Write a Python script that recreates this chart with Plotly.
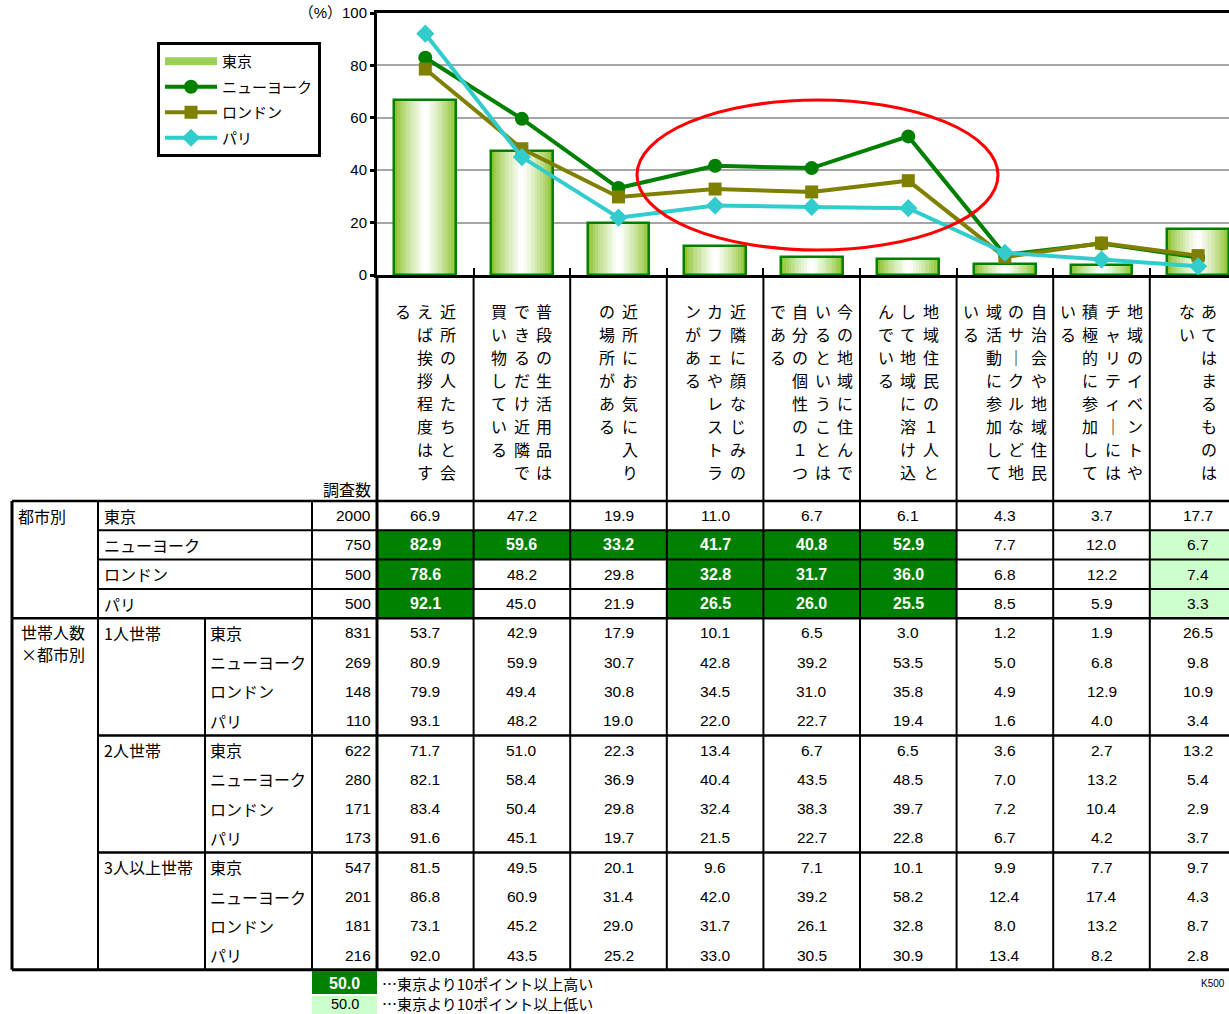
import plotly.graph_objects as go

# ---------------- data ----------------
categories = [
    "近所の人たちと会えば挨拶程度はする",
    "普段の生活用品はできるだけ近隣で買い物している",
    "近所にお気に入りの場所がある",
    "近隣に顔なじみのカフェやレストランがある",
    "今の地域に住んでいるということは自分の個性の１つである",
    "地域住民の１人として地域に溶け込んでいる",
    "自治会や地域住民のサークルなど地域活動に参加している",
    "地域のイベントやチャリティーには積極的に参加している",
    "あてはまるものはない",
]
cities = ["東京", "ニューヨーク", "ロンドン", "パリ"]
tokyo = [66.9, 47.2, 19.9, 11.0, 6.7, 6.1, 4.3, 3.7, 17.7]
newyork = [82.9, 59.6, 33.2, 41.7, 40.8, 52.9, 7.7, 12.0, 6.7]
london = [78.6, 48.2, 29.8, 32.8, 31.7, 36.0, 6.8, 12.2, 7.4]
paris = [92.1, 45.0, 21.9, 26.5, 26.0, 25.5, 8.5, 5.9, 3.3]

city_n = [2000, 750, 500, 500]

households = ["1人世帯", "2人世帯", "3人以上世帯"]
hh1_n = [831, 269, 148, 110]
hh1 = [
    [53.7, 42.9, 17.9, 10.1, 6.5, 3.0, 1.2, 1.9, 26.5],
    [80.9, 59.9, 30.7, 42.8, 39.2, 53.5, 5.0, 6.8, 9.8],
    [79.9, 49.4, 30.8, 34.5, 31.0, 35.8, 4.9, 12.9, 10.9],
    [93.1, 48.2, 19.0, 22.0, 22.7, 19.4, 1.6, 4.0, 3.4],
]
hh2_n = [622, 280, 171, 173]
hh2 = [
    [71.7, 51.0, 22.3, 13.4, 6.7, 6.5, 3.6, 2.7, 13.2],
    [82.1, 58.4, 36.9, 40.4, 43.5, 48.5, 7.0, 13.2, 5.4],
    [83.4, 50.4, 29.8, 32.4, 38.3, 39.7, 7.2, 10.4, 2.9],
    [91.6, 45.1, 19.7, 21.5, 22.7, 22.8, 6.7, 4.2, 3.7],
]
hh3_n = [547, 201, 181, 216]
hh3 = [
    [81.5, 49.5, 20.1, 9.6, 7.1, 10.1, 9.9, 7.7, 9.7],
    [86.8, 60.9, 31.4, 42.0, 39.2, 58.2, 12.4, 17.4, 4.3],
    [73.1, 45.2, 29.0, 31.7, 26.1, 32.8, 8.0, 13.2, 8.7],
    [92.0, 43.5, 25.2, 33.0, 30.5, 30.9, 13.4, 8.2, 2.8],
]

ytick_vals = [0, 20, 40, 60, 80, 100]
ytick_text = ["0", "20", "40", "60", "80", "（%）100"]

# ---------------- layout helpers ----------------
W, H = 1229, 1014
CAT_PX = 96.6          # width of one category column in px
LEFT_PX = 377          # left edge of category area
TOP_ROW_PX = 501       # top of table
ROW_PX = 29.3          # table row height
CHART_BOTTOM_PX = 275
CHART_TOP_PX = 13


def X2(px):
    return (px - LEFT_PX) / CAT_PX - 0.5


def Y2(px):
    return (px - TOP_ROW_PX) / ROW_PX - 0.5


JP = "Noto Sans CJK JP"
NUM = "Liberation Sans, Noto Sans CJK JP"
DKGREEN = "#008000"
LTGREEN = "#ccffcc"

fig = go.Figure()

# ---------------- bars (gradient imitation) ----------------
BW = 0.64
edge = (140, 195, 45)
N = 12
for k in range(N):
    t = (k / (N - 1)) ** 0.8
    c = tuple(int(round(edge[j] + (255 - edge[j]) * t)) for j in range(3))
    fig.add_trace(go.Bar(
        x=categories, y=tokyo, width=BW * (1 - k / N),
        marker=dict(color="rgb(%d,%d,%d)" % c, line=dict(width=0)),
        showlegend=False, hoverinfo="skip", xaxis="x", yaxis="y"))
fig.add_trace(go.Bar(
    x=categories, y=tokyo, width=BW, name="東京", showlegend=False,
    marker=dict(color="rgba(0,0,0,0)", line=dict(color=DKGREEN, width=2.5)),
    hoverinfo="skip", xaxis="x", yaxis="y"))
# legend key for Tokyo bars (wide bar-like symbol)
fig.add_trace(go.Scatter(
    x=[None], y=[None], name="東京", legendgroup="g1", mode="lines",
    line=dict(color="#9ccf5a", width=8), xaxis="x", yaxis="y"))

fig.add_trace(go.Scatter(
    x=categories, y=newyork, name="ニューヨーク", legendgroup="g2",
    mode="lines+markers", line=dict(color=DKGREEN, width=4),
    marker=dict(symbol="circle", size=14, color=DKGREEN), xaxis="x", yaxis="y"))
fig.add_trace(go.Scatter(
    x=categories, y=london, name="ロンドン", legendgroup="g3",
    mode="lines+markers", line=dict(color="#808000", width=4),
    marker=dict(symbol="square", size=13, color="#808000"), xaxis="x", yaxis="y"))
fig.add_trace(go.Scatter(
    x=categories, y=paris, name="パリ", legendgroup="g4",
    mode="lines+markers", line=dict(color="#33cccc", width=4),
    marker=dict(symbol="diamond", size=14, color="#33cccc"), xaxis="x", yaxis="y"))

# dummy trace to establish table subplot
fig.add_trace(go.Scatter(x=[], y=[], xaxis="x2", yaxis="y2", showlegend=False,
                         hoverinfo="skip"))

shapes = []
ann = []

# red ellipse
shapes.append(dict(type="circle", xref="x", yref="y",
                   x0=(637 - LEFT_PX) / CAT_PX - 0.5, x1=(998 - LEFT_PX) / CAT_PX - 0.5,
                   y0=(CHART_BOTTOM_PX - 250) / 2.62, y1=(CHART_BOTTOM_PX - 100) / 2.62,
                   line=dict(color="#ff0000", width=3), layer="above"))

# ---------------- vertical category text ----------------
COL_GAP = 22.5 / CAT_PX
ROW_GAP = 23 / ROW_PX
first_char_y = Y2(311)
for i, label in enumerate(categories):
    chunks = [label[j:j + 8] for j in range(0, len(label), 8)]
    ncol = len(chunks)
    for c, chunk in enumerate(chunks):
        xc = i + ((ncol - 1) / 2 - c) * COL_GAP
        for r, ch in enumerate(chunk):
            if ch == "ー":
                ch = "｜"
            ann.append(dict(x=xc, y=first_char_y + r * ROW_GAP, xref="x2", yref="y2",
                            text=ch, showarrow=False, xanchor="center", yanchor="middle",
                            font=dict(family=JP, size=16, color="#000")))

ann.append(dict(x=X2(373), y=Y2(489), xref="x2", yref="y2", text="調査数",
                showarrow=False, xanchor="right", yanchor="middle",
                font=dict(family=JP, size=16, color="#000")))

# ---------------- table contents ----------------
rows = []
city_vals = [tokyo, newyork, london, paris]
for ci in range(4):
    rows.append((city_vals[ci], city_n[ci], ci > 0))
for grp, grp_n in ((hh1, hh1_n), (hh2, hh2_n), (hh3, hh3_n)):
    for ci in range(4):
        rows.append((grp[ci], grp_n[ci], False))

for r, (vals, n, hl) in enumerate(rows):
    ann.append(dict(x=X2(373), y=r, xref="x2", yref="y2", text=str(n),
                    showarrow=False, xanchor="right", yanchor="middle",
                    font=dict(family=NUM, size=15.5, color="#000")))
    for i, v in enumerate(vals):
        diff = v - tokyo[i]
        txtcol, bold = "#000", False
        if hl and diff >= 10:
            shapes.append(dict(type="rect", xref="x2", yref="y2", x0=i - 0.5, x1=i + 0.5,
                               y0=r - 0.5, y1=r + 0.5, fillcolor=DKGREEN,
                               line=dict(width=0), layer="below"))
            txtcol, bold = "#fff", True
        elif hl and diff <= -10:
            shapes.append(dict(type="rect", xref="x2", yref="y2", x0=i - 0.5, x1=i + 0.5,
                               y0=r - 0.5, y1=r + 0.5, fillcolor=LTGREEN,
                               line=dict(width=0), layer="below"))
        t = "%.1f" % v
        if bold:
            t = "<b>%s</b>" % t
        ann.append(dict(x=i, y=r, xref="x2", yref="y2", text=t, showarrow=False,
                        xanchor="center", yanchor="middle",
                        font=dict(family=NUM, size=16 if bold else 15.5, color=txtcol)))

# row labels
ann.append(dict(x=X2(16), y=0, xref="x2", yref="y2", text="都市別", showarrow=False,
                xanchor="left", yanchor="middle", font=dict(family=JP, size=16, color="#000")))
for ci, name in enumerate(cities):
    ann.append(dict(x=X2(102), y=ci, xref="x2", yref="y2", text=name, showarrow=False,
                    xanchor="left", yanchor="middle", font=dict(family=JP, size=16, color="#000")))
ann.append(dict(x=X2(19), y=Y2(632), xref="x2", yref="y2", text="世帯人数", showarrow=False,
                xanchor="left", yanchor="middle", font=dict(family=JP, size=16, color="#000")))
ann.append(dict(x=X2(19), y=Y2(654), xref="x2", yref="y2", text="×都市別", showarrow=False,
                xanchor="left", yanchor="middle", font=dict(family=JP, size=16, color="#000")))
for g, hname in enumerate(households):
    ann.append(dict(x=X2(102), y=4 + 4 * g, xref="x2", yref="y2", text=hname,
                    showarrow=False, xanchor="left", yanchor="middle",
                    font=dict(family=JP, size=16, color="#000")))
    for ci, name in enumerate(cities):
        ann.append(dict(x=X2(208), y=4 + 4 * g + ci, xref="x2", yref="y2", text=name,
                        showarrow=False, xanchor="left", yanchor="middle",
                        font=dict(family=JP, size=16, color="#000")))

# ---------------- table grid lines ----------------
XEND = 9.0


def hline(y, x0, w):
    shapes.append(dict(type="line", xref="x2", yref="y2", x0=x0, x1=XEND, y0=y, y1=y,
                       line=dict(color="#000", width=w), layer="above"))


def vline(x, y0, y1, w):
    shapes.append(dict(type="line", xref="x2", yref="y2", x0=x, x1=x, y0=y0, y1=y1,
                       line=dict(color="#000", width=w), layer="above"))


hline(-0.5, X2(12), 2.5)
for y in (0.5, 1.5, 2.5):
    hline(y, X2(98), 2)
hline(3.5, X2(12), 2.5)
hline(7.5, X2(98), 2.5)
hline(11.5, X2(98), 2.5)
hline(15.5, X2(12), 3)

vline(X2(12), -0.5, 15.5, 3)
vline(X2(98), -0.5, 15.5, 2)
vline(X2(205), 3.5, 15.5, 2)
vline(X2(312), -0.5, 15.5, 2)
for i in range(len(categories)):
    vline(i - 0.5, Y2(CHART_BOTTOM_PX), 15.5, 3 if i == 0 else 2)

# ---------------- bottom key ----------------
shapes.append(dict(type="rect", xref="x2", yref="y2", x0=X2(312), x1=X2(377),
                   y0=Y2(971), y1=Y2(994), fillcolor=DKGREEN, line=dict(width=0)))
shapes.append(dict(type="rect", xref="x2", yref="y2", x0=X2(312), x1=X2(377),
                   y0=Y2(996), y1=Y2(1016), fillcolor=LTGREEN, line=dict(width=0)))
ann.append(dict(x=X2(344.5), y=Y2(983), xref="x2", yref="y2", text="<b>50.0</b>",
                showarrow=False, font=dict(family=NUM, size=16, color="#fff")))
ann.append(dict(x=X2(344.5), y=Y2(1004), xref="x2", yref="y2", text="50.0",
                showarrow=False, font=dict(family=NUM, size=14.5, color="#000")))
ann.append(dict(x=X2(380), y=Y2(983), xref="x2", yref="y2", text="…東京より10ポイント以上高い",
                showarrow=False, xanchor="left", font=dict(family=JP, size=15, color="#000")))
ann.append(dict(x=X2(380), y=Y2(1003), xref="x2", yref="y2", text="…東京より10ポイント以上低い",
                showarrow=False, xanchor="left", font=dict(family=JP, size=15, color="#000")))
ann.append(dict(x=X2(1227), y=Y2(983), xref="x2", yref="y2", text="K500",
                showarrow=False, xanchor="right", font=dict(family=NUM, size=10, color="#000")))

# ---------------- layout ----------------
fig.update_layout(
    width=W, height=H, autosize=False,
    margin=dict(l=0, r=0, t=0, b=0, pad=0, autoexpand=False),
    paper_bgcolor="white", plot_bgcolor="white",
    barmode="overlay", bargap=0,
    font=dict(family=JP, size=15, color="#000"),
    showlegend=True,
    legend=dict(x=157 / W, y=1 - 42 / H, xanchor="left", yanchor="top",
                bgcolor="white", bordercolor="#000", borderwidth=3,
                font=dict(family=JP, size=15, color="#000"),
                tracegroupgap=3, itemwidth=52, traceorder="grouped"),
    xaxis=dict(domain=[LEFT_PX / W, 1], range=[-0.5, (W - LEFT_PX) / CAT_PX - 0.5],
               type="category", showticklabels=False, tickson="boundaries",
               ticks="inside", ticklen=7, tickwidth=2, tickcolor="#000",
               showline=True, linecolor="#000", linewidth=3, mirror=True,
               showgrid=False, zeroline=False, fixedrange=True, anchor="y",
               automargin=False),
    yaxis=dict(domain=[1 - CHART_BOTTOM_PX / H, 1 - CHART_TOP_PX / H], range=[0, 100],
               tickvals=ytick_vals, ticktext=ytick_text, ticks="outside",
               ticklen=4, tickwidth=2.5, tickcolor="#000",
               tickfont=dict(family=NUM, size=15, color="#000"),
               showline=True, linecolor="#000", linewidth=3,
               showgrid=True, gridcolor="#a6a6a6", gridwidth=1.5,
               zeroline=False, fixedrange=True, anchor="x", automargin=False),
    xaxis2=dict(domain=[0, 1], range=[X2(0), X2(W)], visible=False,
                fixedrange=True, anchor="y2", automargin=False),
    yaxis2=dict(domain=[0, 1 - CHART_BOTTOM_PX / H], range=[Y2(H), Y2(CHART_BOTTOM_PX)],
                visible=False, fixedrange=True, anchor="x2", automargin=False),
    shapes=shapes,
    annotations=ann,
)

fig.write_html("out.html", config={"displayModeBar": False},
               post_script="document.body.style.margin='0';")
